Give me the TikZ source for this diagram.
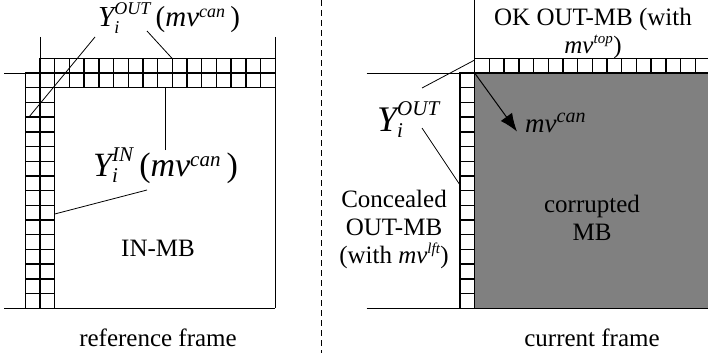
\documentclass[tikz,border=0pt]{standalone}
\usepackage{amsmath}
\usepackage{fontspec}
\setmainfont{Liberation Serif}
\usetikzlibrary{arrows.meta}
\definecolor{mbgray}{HTML}{808080}
\DeclareMathSizes{25}{25}{15}{11}
\DeclareMathSizes{27}{27}{20}{14}
\DeclareMathSizes{29}{29}{18}{13}
\DeclareMathSizes{34}{34}{21}{15}
\DeclareMathSizes{36}{36}{21}{15}
\newcommand{\itx}[1]{\text{\itshape #1}}
\tikzset{
  cell/.style={draw=black, line width=1.4pt},
  edge/.style={draw=black, line width=1pt},
  lead/.style={draw=black, line width=0.8pt},
  lbl/.style={inner sep=0pt, font=\fontsize{25}{28}\selectfont, align=center},
  mlbl/.style={inner sep=0pt, font=\fontsize{#1}{#1}\selectfont},
  arrow/.style={-{Latex[length=18pt,width=14pt]}, line width=1pt}
}

\begin{document}
\begin{tikzpicture}[x=1pt, y=-1pt]
  \useasboundingbox (0,0) rectangle (708,353);
  \clip (0,0) rectangle (708,353);
  \def\s{14.7}

  % reference frame
  \foreach \i in {0,...,15} \draw[cell] ({40+\i*\s},58.3) rectangle ++(\s,\s);
  \foreach \i in {0,...,16} \draw[cell] ({25.3+\i*\s},73) rectangle ++(\s,\s);
  \foreach \j in {0,...,15} \draw[cell] (25.3,{73+\j*\s}) rectangle ++(\s,\s);
  \foreach \j in {0,...,16} \draw[cell] (40,{58.3+\j*\s}) rectangle ++(\s,\s);
  \draw[edge] (40,37) -- (40,58.3);
  \draw[edge] (275.2,37) -- (275.2,308.2);
  \draw[edge] (4,73) -- (25.3,73);
  \draw[edge] (4,308.2) -- (275.2,308.2);

  % current frame
  \fill[mbgray] (474.7,73) rectangle (709.9,308.2);
  \foreach \i in {0,...,15} \draw[cell] ({474.7+\i*\s},58.3) rectangle ++(\s,\s);
  \foreach \j in {0,...,15} \draw[cell] (460,{73+\j*\s}) rectangle ++(\s,\s);
  \draw[edge] (474.7,0) -- (474.7,58.3);
  \draw[edge] (366.7,73) -- (460,73);
  \draw[edge] (366.7,308.2) -- (708,308.2);

  \draw[edge, dash pattern=on 6pt off 4pt] (321,0) -- (321,353);

  % labels
  \node[mlbl=29, anchor=base west] (outtop) at (98,27) {$\itx{Y}_{\itx{i}}^{\itx{OUT}}$\,(\itx{mv}$^{\itx{can}}$\,)};
  \node[mlbl=34, anchor=base west] (intop) at (93,176) {$\itx{Y}_{\itx{i}}^{\itx{IN}}$\,(\itx{mv}$^{\itx{can}}$\,)};
  \node[lbl, anchor=base] (inmb) at (158,256) {IN-MB};
  \node[lbl, anchor=base] (refcap) at (158,346) {reference frame};
  \node[lbl, anchor=base] (curcap) at (592,346) {current frame};
  \node[lbl, anchor=base] (okmb) at (593,53) {OK OUT-MB (with\\\itx{mv}$^{\itx{top}}$)};
  \node[mlbl=36, anchor=base west] (outrgt) at (377,131) {$\itx{Y}_{\itx{i}}^{\itx{OUT}}$};
  \node[mlbl=27, anchor=base west] (mvcan) at (525,132) {\itx{mv}$^{\itx{can}}$};
  \node[lbl, anchor=base] (conc) at (394,263) {Concealed\\OUT-MB\\(with \itx{mv}$^{\itx{lft}}$)};
  \node[lbl, anchor=base] (corr) at (592,240) {corrupted\\MB};

  % leader lines
  \coordinate (outtop-a) at (95,37);
  \coordinate (outcol) at (29,117);
  \coordinate (outtop-b) at (147,31);
  \coordinate (outrow) at (172,58.3);
  \coordinate (intop-a) at (165,150);
  \coordinate (inrow) at (165,87.7);
  \coordinate (intop-b) at (147,190);
  \coordinate (incol) at (54.7,214);
  \coordinate (outrgt-a) at (422,88);
  \coordinate (corner) at (474.7,60);
  \coordinate (outrgt-b) at (422,128);
  \coordinate (lftcol) at (460,185);
  \coordinate (mvstart) at (475,73.5);
  \coordinate (mvend) at (517,131.5);

  \draw[lead] (outtop-a) -- (outcol);
  \draw[lead] (outtop-b) -- (outrow);
  \draw[lead] (intop-a) -- (inrow);
  \draw[lead] (intop-b) -- (incol);
  \draw[lead] (outrgt-a) -- (corner);
  \draw[lead] (outrgt-b) -- (lftcol);
  \draw[arrow] (mvstart) -- (mvend);
\end{tikzpicture}
\end{document}
